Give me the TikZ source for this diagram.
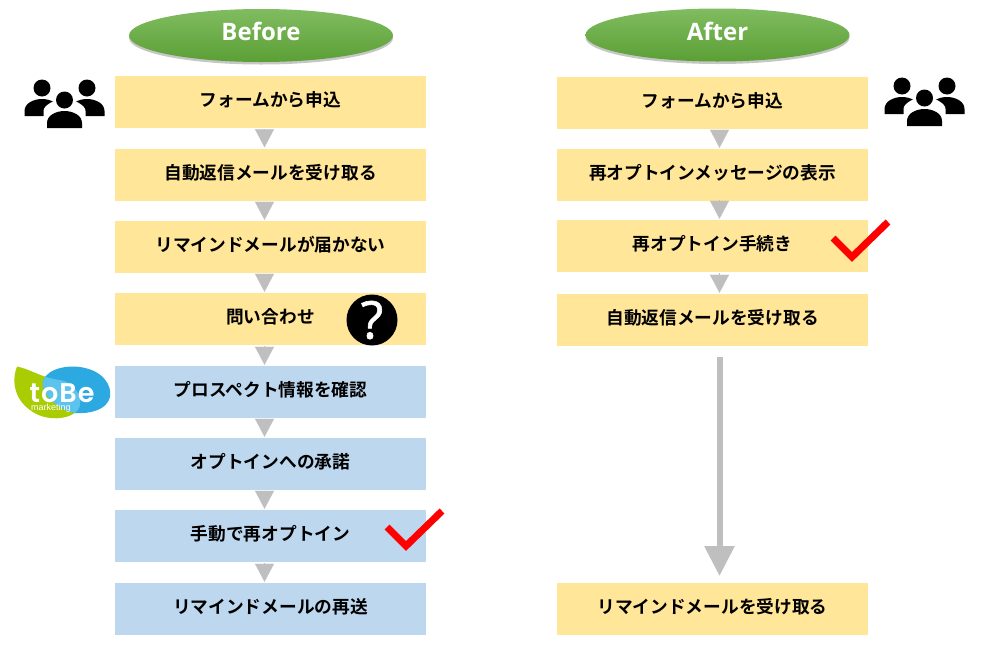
\documentclass[tikz,border=0pt]{standalone}
\usepackage{fontspec}
\usepackage{xcolor}
\usetikzlibrary{arrows.meta,shadows,shapes.geometric}
\setmainfont{Noto Sans CJK JP}[BoldFont={Noto Sans CJK JP Bold}]
\newfontfamily\latinbold{Open Sans}[BoldFont={Open Sans Bold}]
\newfontfamily\askfont{Open Sans}[FakeBold=1.2]
\newfontfamily\logofont{Poppins}[BoldFont={Poppins SemiBold},LetterSpace=4]
\newfontfamily\logosmall{Liberation Sans}
\definecolor{boxyellow}{HTML}{FFE699}
\definecolor{boxblue}{HTML}{BDD7EE}
\definecolor{flowgray}{HTML}{BFBFBF}
\definecolor{leafgreen}{HTML}{AACC03}
\definecolor{logoblue}{HTML}{2CA9E1}
\definecolor{logolight}{HTML}{5CC3EC}
\definecolor{checkred}{HTML}{FF0000}
\definecolor{ovaltop}{HTML}{80BC60}
\definecolor{ovalbottom}{HTML}{5B9F35}
\begin{document}
\begin{tikzpicture}
  [x=1pt,y=-1pt,
   yellowbox/.style={rectangle,fill=boxyellow,minimum width=311pt,minimum height=52pt,inner sep=0pt,text height=14pt,text depth=4.4pt,font=\bfseries\fontsize{17.7}{20}\selectfont},
   bluebox/.style={yellowbox,fill=boxblue},
   titleoval/.style={ellipse,minimum width=264pt,minimum height=53pt,inner sep=0pt,top color=ovaltop,bottom color=ovalbottom,text=white,text height=17pt,text depth=7pt,drop shadow={shadow xshift=0pt,shadow yshift=-2.5pt,opacity=.45},font=\latinbold\bfseries\fontsize{24}{28}\selectfont},
   flow/.style={draw=flowgray,line width=.2pt,-{Triangle[width=19pt,length=18pt,fill=flowgray]},shorten <=1pt,shorten >=1pt},
   longflow/.style={draw=flowgray,line width=6pt,-{Triangle[width=29pt,length=30pt,fill=flowgray]}},
   tick/.style={draw=checkred,line width=7pt,miter limit=10},
   person/.pic={
     \fill (0,-12) circle (8.5pt);
     \fill (-17.5,16) -- (-17.5,11) .. controls (-17.5,3) and (-8,-1) .. (0,-1) .. controls (8,-1) and (17.5,3) .. (17.5,11) -- (17.5,16) -- cycle;
   },
   crowd/.pic={
     \pic at (-22.5,-12) {person};
     \pic at (22.5,-12) {person};
     \fill[white] (-21,4) -- (-21,-1) .. controls (-21,-7) and (-9,-13) .. (0,-13) .. controls (9,-13) and (21,-7) .. (21,-1) -- (21,17) -- (-21,17) -- cycle;
     \pic at (0,0) {person};
   }]
  \useasboundingbox (0,0) rectangle (982,646);

  \node[titleoval] (before) at (261,35.5) {Before};
  \node[titleoval] (after) at (717.5,35) {After};

  % left column
  \node[yellowbox] (b1) at (270.5,102) {フォームから申込};
  \node[yellowbox] (b2) at (270.5,174.5) {自動返信メールを受け取る};
  \node[yellowbox] (b3) at (270.5,247) {リマインドメールが届かない};
  \node[yellowbox] (b4) at (270.5,319) {問い合わせ};
  \node[bluebox] (b5) at (270.5,392) {プロスペクト情報を確認};
  \node[bluebox] (b6) at (270.5,464) {オプトインへの承諾};
  \node[bluebox] (b7) at (270.5,536) {手動で再オプトイン};
  \node[bluebox] (b8) at (270.5,609) {リマインドメールの再送};

  % right column
  \node[yellowbox] (a1) at (712.5,103) {フォームから申込};
  \node[yellowbox] (a2) at (712.5,175) {再オプトインメッセージの表示};
  \node[yellowbox] (a3) at (712.5,246) {再オプトイン手続き};
  \node[yellowbox] (a4) at (712.5,320) {自動返信メールを受け取る};
  \node[yellowbox] (a5) at (712.5,609) {リマインドメールを受け取る};

  \foreach \from/\to in {b1/b2,b2/b3,b3/b4,b4/b5,b5/b6,b6/b7,b7/b8}
    \draw[flow] ([xshift=-6pt]\from.south) -- ([xshift=-6pt]\to.north);
  \foreach \from/\to in {a1/a2,a2/a3,a3/a4}
    \draw[flow] ([xshift=7pt]\from.south) -- ([xshift=7pt]\to.north);

  \coordinate (gapstart) at (719.5,357);
  \coordinate (gapend) at (719.5,576);
  \draw[longflow] (gapstart) -- (gapend);

  % icons
  \pic at (64.5,112) {crowd};
  \pic at (924.5,110) {crowd};
  \node[circle,fill=black,text=white,minimum size=51pt,inner sep=0pt,text height=37pt,text depth=0pt,font=\askfont\fontsize{52}{54}\selectfont] (ask) at (372,320) {?};
  \draw[tick] (387,527) -- (406,546) -- (442,511);
  \draw[tick] (833,238) -- (852,257) -- (888,222);

  % logo
  \fill[leafgreen] (17,366.5) .. controls (30,369) and (42,378) .. (60,380) .. controls (75,382) and (85,400) .. (78,410) .. controls (70,420) and (45,422) .. (30,410) .. controls (18,402) and (10,385) .. (17,366.5) -- cycle;
  \fill[logoblue] (43,381) .. controls (47,368) and (70,364) .. (85,368) .. controls (103,372) and (112,385) .. (110,397) .. controls (107,410) and (90,414) .. (75,413) .. controls (60,410) and (40,395) .. (43,381) -- cycle;
  \begin{scope}
    \clip (17,366.5) .. controls (30,369) and (42,378) .. (60,380) .. controls (75,382) and (85,400) .. (78,410) .. controls (70,420) and (45,422) .. (30,410) .. controls (18,402) and (10,385) .. (17,366.5) -- cycle;
    \fill[logolight] (43,381) .. controls (47,368) and (70,364) .. (85,368) .. controls (103,372) and (112,385) .. (110,397) .. controls (107,410) and (90,414) .. (75,413) .. controls (60,410) and (40,395) .. (43,381) -- cycle;
  \end{scope}
  \node[text=white,inner sep=0pt,text height=20pt,text depth=0pt,font=\logofont\bfseries\fontsize{27}{28}\selectfont] (tobe) at (62,392) {toBe};
  \node[text=white,inner sep=0pt,text height=6.5pt,text depth=1.5pt,font=\logosmall\fontsize{9}{10}\selectfont] (mkt) at (51,407.5) {marketing};
\end{tikzpicture}
\end{document}
